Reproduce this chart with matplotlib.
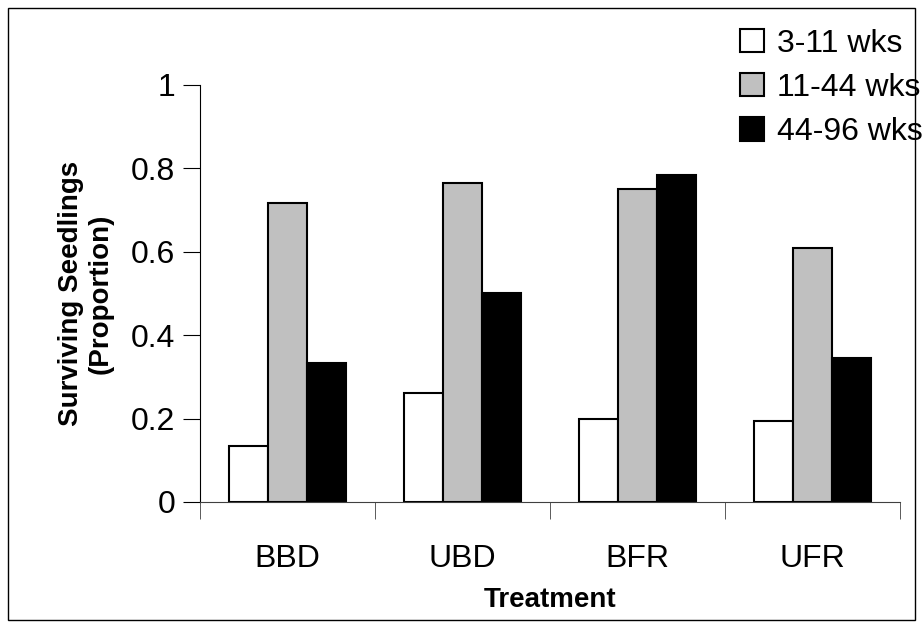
import numpy as np
import matplotlib.pyplot as plt
from matplotlib.patches import Rectangle

plt.rcParams['font.family'] = ['Liberation Sans', 'DejaVu Sans']

treatments = ['BBD', 'UBD', 'BFR', 'UFR']
series = ['3-11 wks', '11-44 wks', '44-96 wks']
wk3_11 = [0.134, 0.26, 0.20, 0.195]
wk11_44 = [0.716, 0.764, 0.75, 0.61]
wk44_96 = [0.332, 0.50, 0.785, 0.345]
colors = ['white', '#c0c0c0', 'black']

fig = plt.figure(figsize=(9.23, 6.25), dpi=100)
ax = fig.add_axes([0.2167, 0.197, 0.7583, 0.667])

x = np.arange(len(treatments))
w = 0.223
for i, (vals, c) in enumerate(zip([wk3_11, wk11_44, wk44_96], colors)):
    ax.bar(x + (i - 1) * w, vals, w, color=c, edgecolor='black', linewidth=1.5, label=series[i])

ax.set_xlim(-0.5, 3.5)
ax.set_ylim(0, 1)
ax.set_yticks([0, 0.2, 0.4, 0.6, 0.8, 1])
ax.set_yticklabels(['0', '0.2', '0.4', '0.6', '0.8', '1'])
ax.set_xticks(x)
ax.set_xticklabels(treatments)
ax.set_xticks(np.arange(-0.5, 3.6, 1), minor=True)
ax.tick_params(axis='x', which='major', length=0, labelsize=23, pad=30)
ax.tick_params(axis='x', which='minor', length=12, direction='out', color='#404040')
ax.tick_params(axis='y', length=12, direction='out', labelsize=23, pad=6)
for s in ['top', 'right']:
    ax.spines[s].set_visible(False)
ax.spines['bottom'].set_color('#404040')
ax.set_xlabel('Treatment', fontsize=20, fontweight='bold', labelpad=10)
ax.set_ylabel('Surviving Seedlings\n(Proportion)', fontsize=20, fontweight='bold', labelpad=12)

fig.legend(loc='upper right', bbox_to_anchor=(1.02, 0.985), frameon=False, fontsize=23,
           handlelength=0.75, handleheight=0.75, handletextpad=0.4, labelspacing=0.45,
           borderaxespad=0.2)

fig.patches.append(Rectangle((0.009, 0.008), 0.982, 0.98, transform=fig.transFigure,
                             fill=False, edgecolor='black', linewidth=1))

fig.savefig('out.png', dpi=100)
